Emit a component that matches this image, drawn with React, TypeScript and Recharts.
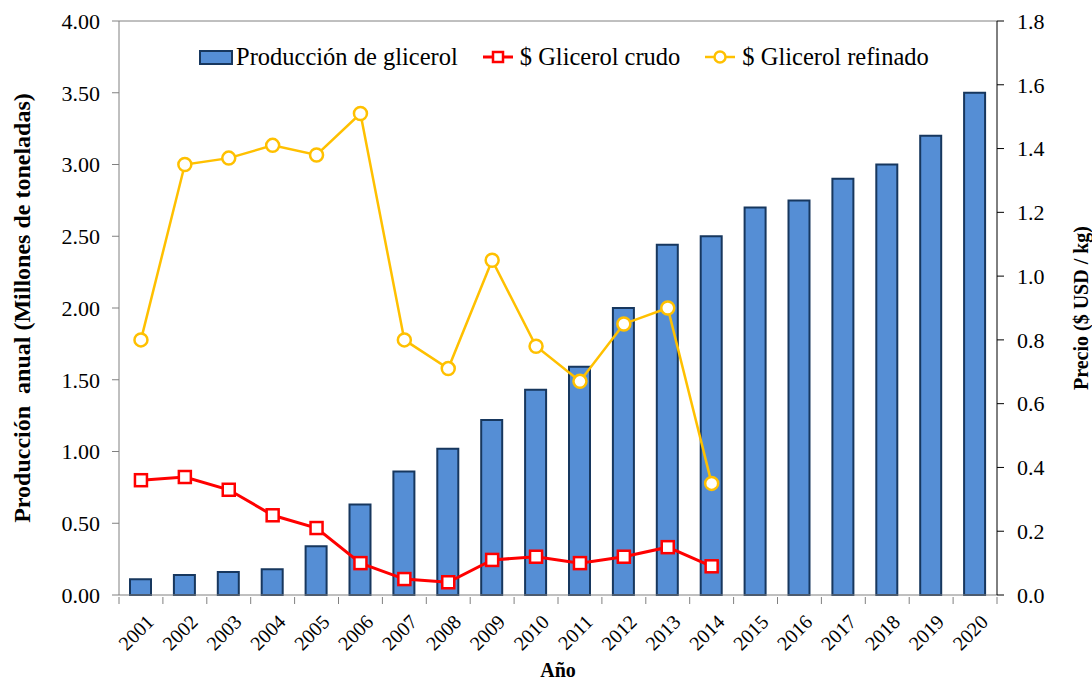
import React from 'react';
import { ComposedChart, Bar, Line, XAxis, YAxis, ReferenceLine } from 'recharts';

const years = ['2001', '2002', '2003', '2004', '2005', '2006', '2007', '2008', '2009', '2010',
  '2011', '2012', '2013', '2014', '2015', '2016', '2017', '2018', '2019', '2020'];
const produccion = [0.11, 0.14, 0.16, 0.18, 0.34, 0.63, 0.86, 1.02, 1.22, 1.43,
  1.59, 2.0, 2.44, 2.5, 2.7, 2.75, 2.9, 3.0, 3.2, 3.5];
const crudo = [0.36, 0.37, 0.33, 0.25, 0.21, 0.1, 0.05, 0.04, 0.11, 0.12,
  0.1, 0.12, 0.15, 0.09, null, null, null, null, null, null];
const refinado = [0.8, 1.35, 1.37, 1.41, 1.38, 1.51, 0.8, 0.71, 1.05, 0.78,
  0.67, 0.85, 0.9, 0.35, null, null, null, null, null, null];
const leftTicks = [0, 0.5, 1, 1.5, 2, 2.5, 3, 3.5, 4];
const rightTicks = [0, 0.2, 0.4, 0.6, 0.8, 1.0, 1.2, 1.4, 1.6, 1.8];

const data = years.map((y, i) => ({
  year: y,
  prod: produccion[i],
  crudo: crudo[i],
  refinado: refinado[i],
}));

const FONT = '"Liberation Serif", "Times New Roman", serif';
const BAR = '#558ED5';
const BAR_EDGE = '#17375E';
const RED = '#FF0000';
const GOLD = '#FFC000';
const AXIS = '#808080';

const W = 1092;
const H = 682;
const M = { top: 21, right: 0, bottom: 0, left: 0 };
const LEFT_W = 119;
const RIGHT_W = 95;
const band = (W - LEFT_W - RIGHT_W) / years.length;

const tickStyle = { fontFamily: FONT, fontSize: 22, fill: '#000' };
const titleStyle: any = { fontFamily: FONT, fontSize: 20, fontWeight: 'bold', fill: '#000' };

const XTick = (props: any) => {
  const { x, y, payload, index } = props;
  const last = index === years.length - 1;
  const tx = x + 4;
  const ty = y + 10;
  return (
    <g>
      <line x1={x - band / 2} y1={y - 6} x2={x - band / 2} y2={y + 1} stroke={AXIS} strokeWidth={1} />
      {last && <line x1={x + band / 2} y1={y - 6} x2={x + band / 2} y2={y + 1} stroke={AXIS} strokeWidth={1} />}
      <text
        x={tx}
        y={ty}
        transform={`rotate(-45, ${tx}, ${ty})`}
        textAnchor="end"
        dominantBaseline="hanging"
        style={{ fontFamily: FONT, fontSize: 20, fill: '#000' }}
      >
        {payload.value}
      </text>
    </g>
  );
};

const Square = (props: any) => {
  const { cx, cy, value } = props;
  if (value == null || cx == null || cy == null) return <g />;
  return <rect x={cx - 6} y={cy - 6} width={12} height={12} fill="#fff" stroke={RED} strokeWidth={2.5} />;
};

const Circle = (props: any) => {
  const { cx, cy, value } = props;
  if (value == null || cx == null || cy == null) return <g />;
  return <circle cx={cx} cy={cy} r={6.5} fill="#fff" stroke={GOLD} strokeWidth={2.5} />;
};

const LeftTitle = (props: any) => {
  const { viewBox } = props;
  const cx = viewBox.x + 22;
  const cy = viewBox.y + viewBox.height / 2;
  return (
    <text x={cx} y={cy} transform={`rotate(-90, ${cx}, ${cy})`} textAnchor="middle" dominantBaseline="central"
      style={{ ...titleStyle, fontSize: 24, whiteSpace: 'pre' }}>
      {'Producción  anual (Millones de toneladas)'}
    </text>
  );
};

const RightTitle = (props: any) => {
  const { viewBox } = props;
  const cx = viewBox.x + 84;
  const cy = viewBox.y + viewBox.height / 2;
  return (
    <text x={cx} y={cy} transform={`rotate(-90, ${cx}, ${cy})`} textAnchor="middle" dominantBaseline="central" style={titleStyle}>
      Precio ($ USD / kg)
    </text>
  );
};

const BottomTitle = (props: any) => {
  const { viewBox } = props;
  return (
    <text x={viewBox.x + viewBox.width / 2} y={viewBox.y + 75} textAnchor="middle" dominantBaseline="central" style={titleStyle}>
      Año
    </text>
  );
};

const LegendBox = () => (
  <div
    style={{
      position: 'absolute', left: 199, top: 43, display: 'flex', alignItems: 'center',
      fontFamily: FONT, fontSize: 24.5, color: '#000', whiteSpace: 'nowrap', lineHeight: '28px',
    }}
  >
    <svg width={34} height={18} style={{ marginRight: 3 }}>
      <rect x={1} y={3} width={32} height={13} fill={BAR} stroke={BAR_EDGE} strokeWidth={2} />
    </svg>
    <span style={{ marginRight: 25 }}>Producción de glicerol</span>
    <svg width={30} height={18} style={{ marginRight: 7 }}>
      <line x1={0} y1={9} x2={30} y2={9} stroke={RED} strokeWidth={3} />
      <rect x={10} y={4} width={10} height={10} fill="#fff" stroke={RED} strokeWidth={2.5} />
    </svg>
    <span style={{ marginRight: 25 }}>$ Glicerol crudo</span>
    <svg width={30} height={18} style={{ marginRight: 7 }}>
      <line x1={0} y1={9} x2={30} y2={9} stroke={GOLD} strokeWidth={2.5} />
      <circle cx={15} cy={9} r={5.5} fill="#fff" stroke={GOLD} strokeWidth={2.5} />
    </svg>
    <span>$ Glicerol refinado</span>
  </div>
);

export default function App() {
  return (
    <div style={{ position: 'absolute', left: 0, top: 0, width: W, height: H, background: '#fff' }}>
      <ComposedChart width={W} height={H} data={data} margin={M} style={{ fontFamily: FONT }}>
        <XAxis
          dataKey="year"
          xAxisId="x"
          height={87}
          tickLine={false}
          axisLine={{ stroke: AXIS }}
          tick={<XTick />}
          interval={0}
          label={<BottomTitle />}
        />
        <YAxis
          yAxisId="left"
          orientation="left"
          width={LEFT_W}
          domain={[0, 4]}
          ticks={leftTicks}
          interval={0}
          tickFormatter={(v: number) => v.toFixed(2)}
          tick={tickStyle}
          tickSize={7}
          tickMargin={12}
          axisLine={{ stroke: AXIS }}
          tickLine={{ stroke: AXIS }}
          label={<LeftTitle />}
        />
        <YAxis
          yAxisId="right"
          orientation="right"
          width={RIGHT_W}
          domain={[0, 1.8]}
          ticks={rightTicks}
          interval={0}
          tickFormatter={(v: number) => v.toFixed(1)}
          tick={tickStyle}
          tickSize={7}
          tickMargin={13}
          axisLine={{ stroke: '#000' }}
          tickLine={{ stroke: '#000' }}
          label={<RightTitle />}
        />
        <ReferenceLine yAxisId="left" xAxisId="x" y={4} stroke={AXIS} strokeWidth={1} />
        <Bar
          xAxisId="x"
          yAxisId="left"
          dataKey="prod"
          name="Producción de glicerol"
          fill={BAR}
          stroke={BAR_EDGE}
          strokeWidth={2}
          barSize={21}
          isAnimationActive={false}
        />
        <Line
          xAxisId="x"
          yAxisId="right"
          dataKey="crudo"
          name="$ Glicerol crudo"
          stroke={RED}
          strokeWidth={3}
          dot={<Square />}
          activeDot={false}
          connectNulls={false}
          isAnimationActive={false}
        />
        <Line
          xAxisId="x"
          yAxisId="right"
          dataKey="refinado"
          name="$ Glicerol refinado"
          stroke={GOLD}
          strokeWidth={2.5}
          dot={<Circle />}
          activeDot={false}
          connectNulls={false}
          isAnimationActive={false}
        />
      </ComposedChart>
      <LegendBox />
    </div>
  );
}
